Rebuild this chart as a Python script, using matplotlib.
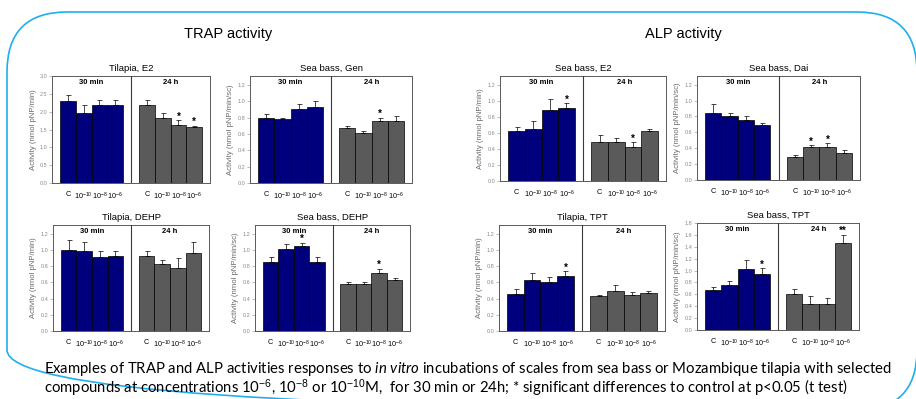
import matplotlib
matplotlib.use("Agg")
import matplotlib.pyplot as plt
import numpy as np
from matplotlib.patches import FancyBboxPatch

W, H = 916, 399

plt.rcParams['font.family'] = ['Liberation Sans', 'DejaVu Sans']
plt.rcParams['mathtext.fontset'] = 'custom'
plt.rcParams['mathtext.rm'] = 'Liberation Sans'
plt.rcParams['mathtext.it'] = 'Lato:italic'

NAVY = '#00007c'
GREY = '#5a5a5a'
BORDER = '#1eaff0'

dose_labels = ['C', '$10^{-10}$', '$10^{-8}$', '$10^{-6}$']

# TRAP: Tilapia, E2
tilapia_e2_30 = [2.29, 1.97, 2.18, 2.20]
tilapia_e2_30_err = [0.18, 0.23, 0.16, 0.12]
tilapia_e2_24 = [2.18, 1.83, 1.64, 1.57]
tilapia_e2_24_err = [0.16, 0.12, 0.12, 0.03]

# TRAP: Sea bass, Gen
seabass_gen_30 = [0.80, 0.78, 0.90, 0.93]
seabass_gen_30_err = [0.04, 0.02, 0.07, 0.08]
seabass_gen_24 = [0.67, 0.61, 0.76, 0.76]
seabass_gen_24_err = [0.03, 0.03, 0.04, 0.06]

# TRAP: Tilapia, DEHP
tilapia_dehp_30 = [1.00, 0.99, 0.91, 0.93]
tilapia_dehp_30_err = [0.12, 0.11, 0.08, 0.06]
tilapia_dehp_24 = [0.93, 0.83, 0.78, 0.96]
tilapia_dehp_24_err = [0.06, 0.05, 0.12, 0.14]

# TRAP: Sea bass, DEHP
seabass_dehp_30 = [0.85, 1.01, 1.05, 0.85]
seabass_dehp_30_err = [0.06, 0.07, 0.04, 0.06]
seabass_dehp_24 = [0.58, 0.58, 0.72, 0.63]
seabass_dehp_24_err = [0.03, 0.03, 0.05, 0.025]

# ALP: Sea bass, E2
seabass_e2_30 = [0.62, 0.65, 0.89, 0.91]
seabass_e2_30_err = [0.05, 0.10, 0.13, 0.06]
seabass_e2_24 = [0.485, 0.49, 0.42, 0.62]
seabass_e2_24_err = [0.085, 0.045, 0.065, 0.025]

# ALP: Sea bass, Dai
seabass_dai_30 = [0.845, 0.81, 0.75, 0.69]
seabass_dai_30_err = [0.115, 0.04, 0.06, 0.03]
seabass_dai_24 = [0.29, 0.41, 0.41, 0.345]
seabass_dai_24_err = [0.03, 0.03, 0.05, 0.03]

# ALP: Tilapia, TPT
tilapia_tpt_30 = [0.46, 0.63, 0.60, 0.68]
tilapia_tpt_30_err = [0.06, 0.09, 0.07, 0.06]
tilapia_tpt_24 = [0.43, 0.50, 0.44, 0.47]
tilapia_tpt_24_err = [0.02, 0.07, 0.04, 0.03]

# ALP: Sea bass, TPT
seabass_tpt_30 = [0.68, 0.76, 1.03, 0.94]
seabass_tpt_30_err = [0.04, 0.07, 0.15, 0.10]
seabass_tpt_24 = [0.60, 0.44, 0.43, 1.46]
seabass_tpt_24_err = [0.09, 0.13, 0.10, 0.14]

# significance marks
no_stars = ['', '', '', '']

UNIT = 'Activity (nmol pNP/min)'
UNIT_SC = 'Activity (nmol pNP/min/sc)'


def px_axes(fig, left, top, right, bottom):
    return fig.add_axes([left / W, 1 - bottom / H, (right - left) / W, (bottom - top) / H])


def draw_panel(ax, title, ylabel, m30, e30, m24, e24, s30, s24, ymax, ystep, ytop):
    x30 = np.arange(4)
    x24 = np.arange(4) + 5
    for x, m, e, s, col in ((x30, m30, e30, s30, NAVY), (x24, m24, e24, s24, GREY)):
        ax.bar(x, m, width=1.0, color=col, edgecolor='black', linewidth=0.5, zorder=2)
        ax.errorbar(x, m, yerr=[np.zeros(4), e], fmt='none', ecolor='black',
                    elinewidth=0.5, capsize=1.8, capthick=0.5, zorder=3)
        for xi, mi, ei, si in zip(x, m, e, s):
            if si:
                ax.text(xi, mi + ei + ymax * 0.035, si, ha='center', va='center',
                        fontsize=7, fontweight='bold', zorder=4)
    ax.axvline(4, color='#3a3a3a', lw=0.8, zorder=3)
    ax.set_xlim(-1, 9)
    ax.set_ylim(0, ymax)
    ax.set_yticks(np.arange(0, ytop + 1e-9, ystep))
    ax.yaxis.set_major_formatter(matplotlib.ticker.FormatStrFormatter('%.1f'))
    ax.tick_params(axis='y', labelsize=4, labelcolor='#8a8a8a', length=2,
                   width=0.4, color='#8a8a8a', pad=1.5)
    ax.set_xticks(np.r_[x30, x24])
    ax.set_xticklabels(dose_labels * 2)
    ax.tick_params(axis='x', labelsize=5.2, direction='in', length=2, width=0.4,
                   color='#8a8a8a', pad=5.5)
    for sp in ax.spines.values():
        sp.set_color('#5a5a5a')
        sp.set_linewidth(0.7)
    ax.set_ylabel(ylabel, fontsize=5.6, color='#6a6a6a', labelpad=2)
    ax.set_title(title, fontsize=6.8, pad=3.5)
    ax.text(0.25, 0.94, '30 min', transform=ax.transAxes, ha='center', va='center',
            fontsize=5.5, fontweight='bold')
    ax.text(0.75, 0.94, '24 h', transform=ax.transAxes, ha='center', va='center',
            fontsize=5.5, fontweight='bold')


fig = plt.figure(figsize=(W / 100, H / 100), dpi=100)

bg = fig.add_axes([0, 0, 1, 1], zorder=-1)
bg.set_xlim(0, W)
bg.set_ylim(H, 0)
bg.axis('off')
bg.add_patch(FancyBboxPatch((7, 12), 910, 398, boxstyle='round,pad=0,rounding_size=60',
                            fill=False, ec=BORDER, lw=1.2, clip_on=False))

fig.text(228 / W, 1 - 34 / H, 'TRAP activity', ha='center', va='center', fontsize=10.5)
fig.text(683 / W, 1 - 34 / H, 'ALP activity', ha='center', va='center', fontsize=10.5)

ax = px_axes(fig, 52, 76, 210, 183)
draw_panel(ax, 'Tilapia, E2', UNIT, tilapia_e2_30, tilapia_e2_30_err, tilapia_e2_24,
           tilapia_e2_24_err, no_stars, ['', '', '*', '*'], 3.0, 0.5, 3.0)

ax = px_axes(fig, 250, 76, 412, 183)
draw_panel(ax, 'Sea bass, Gen', UNIT_SC, seabass_gen_30, seabass_gen_30_err, seabass_gen_24,
           seabass_gen_24_err, no_stars, ['', '', '*', ''], 1.31, 0.2, 1.2)

ax = px_axes(fig, 500, 76, 666, 181)
draw_panel(ax, 'Sea bass, E2', UNIT, seabass_e2_30, seabass_e2_30_err, seabass_e2_24,
           seabass_e2_24_err, ['', '', '', '*'], ['', '', '*', ''], 1.31, 0.2, 1.2)

ax = px_axes(fig, 697, 76, 860, 180)
draw_panel(ax, 'Sea bass, Dai', UNIT_SC, seabass_dai_30, seabass_dai_30_err, seabass_dai_24,
           seabass_dai_24_err, no_stars, ['', '*', '*', ''], 1.31, 0.2, 1.2)

ax = px_axes(fig, 53, 225, 209, 331)
draw_panel(ax, 'Tilapia, DEHP', UNIT, tilapia_dehp_30, tilapia_dehp_30_err, tilapia_dehp_24,
           tilapia_dehp_24_err, no_stars, no_stars, 1.31, 0.2, 1.2)

ax = px_axes(fig, 255, 225, 410, 331)
draw_panel(ax, 'Sea bass, DEHP', UNIT_SC, seabass_dehp_30, seabass_dehp_30_err, seabass_dehp_24,
           seabass_dehp_24_err, ['', '', '*', ''], ['', '', '*', ''], 1.31, 0.2, 1.2)

ax = px_axes(fig, 499, 225, 665, 331)
draw_panel(ax, 'Tilapia, TPT', UNIT, tilapia_tpt_30, tilapia_tpt_30_err, tilapia_tpt_24,
           tilapia_tpt_24_err, ['', '', '', '*'], no_stars, 1.31, 0.2, 1.2)

ax = px_axes(fig, 697, 223, 859, 330)
draw_panel(ax, 'Sea bass, TPT', UNIT_SC, seabass_tpt_30, seabass_tpt_30_err, seabass_tpt_24,
           seabass_tpt_24_err, ['', '', '', '*'], ['', '', '', '**'], 1.78, 0.2, 1.8)

line1 = ('Examples of TRAP and ALP activities responses to $\\it{in\\ vitro}$ incubations of '
         'scales from sea bass or Mozambique tilapia with selected')
line2 = ('compounds at concentrations 10$^{-6}$, 10$^{-8}$ or 10$^{-10}$M,  for 30 min or 24h; '
         '* significant differences to control at p<0.05 (t test)')
t1 = fig.text(44 / W, 1 - 369 / H, line1, ha='left', va='center', fontsize=9, family='Lato')
t2 = fig.text(44 / W, 1 - 388 / H, line2, ha='left', va='center', fontsize=9, family='Lato')

# fit caption width to the reference (~850 px for the first line)
renderer = fig.canvas.get_renderer()
width = t1.get_window_extent(renderer).width
fs = 9 * 850 / width
t1.set_fontsize(fs)
t2.set_fontsize(fs)

fig.savefig('out.png', dpi=100)
